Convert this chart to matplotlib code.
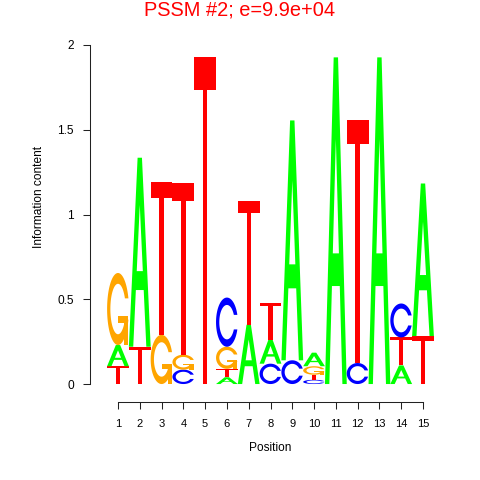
import numpy as np
import matplotlib
matplotlib.use("Agg")
import matplotlib.pyplot as plt
from matplotlib.patches import Polygon

plt.rcParams["font.family"] = ["Liberation Sans", "DejaVu Sans"]

# ==================== DATA ====================
positions = list(range(1, 16))
bits_A = [0.125, 1.115, 0, 0, 0, 0.04, 0.35, 0.14, 1.415, 0.08, 1.927, 0, 1.927, 0.11, 0.90]
bits_C = [0, 0, 0, 0.085, 0, 0.29, 0, 0.12, 0.14, 0.025, 0, 0.124, 0, 0.20, 0]
bits_G = [0.425, 0, 0.29, 0.088, 0, 0.13, 0, 0, 0, 0.05, 0, 0, 0, 0, 0]
bits_T = [0.105, 0.22, 0.90, 1.01, 1.927, 0.05, 0.73, 0.22, 0, 0.03, 0, 1.434, 0, 0.165, 0.283]

letter_colors = {"A": "#00FF00", "C": "#0000FF", "G": "#FFA500", "T": "#FF0000"}
y_ticks = [0, 0.5, 1, 1.5, 2]
y_tick_labels = ["0", "0.5", "1", "1.5", "2"]
title = "PSSM #2; e=9.9e+04"


# ==================== LETTER SHAPES (unit box) ====================
def ring_shape():
    a1 = np.linspace(0.3 + np.pi / 2, np.pi, 100)
    a2 = np.linspace(np.pi, 1.5 * np.pi, 100)
    xl1, yl1 = 0.5 + 0.5 * np.sin(a1), 0.5 + 0.5 * np.cos(a1)
    xl2, yl2 = 0.5 + 0.5 * np.sin(a2), 0.5 + 0.5 * np.cos(a2)
    xl = np.concatenate([xl1, xl2])
    yl = np.concatenate([yl1, yl2])
    x = np.concatenate([xl, xl[::-1]])
    y = np.concatenate([yl, 1 - yl[::-1]])

    xi1, yi1 = 0.5 + 0.35 * np.sin(a1), 0.5 + 0.35 * np.cos(a1)
    keep = yi1 <= yl1.max()
    xi1, yi1 = xi1[keep], yi1[keep].copy()
    yi1[0] = yl1.max()
    xi2, yi2 = 0.5 + 0.35 * np.sin(a2), 0.5 + 0.35 * np.cos(a2)
    xi = np.concatenate([xi1, xi2])
    yi = np.concatenate([yi1, yi2])
    x1 = np.concatenate([xi, xi[::-1]])
    y1 = np.concatenate([yi, 1 - yi[::-1]])

    x = np.concatenate([x, x1[::-1]])
    y = np.concatenate([y, y1[::-1]])
    return x, y, xl1.max()


def letter_parts(letter):
    col = letter_colors[letter]
    if letter == "A":
        ox = np.array([0, 4, 6, 10, 8, 6.8, 3.2, 2, 0]) * 0.1
        oy = np.array([0, 10, 10, 0, 0, 3, 3, 0, 0]) * 0.1
        ix = np.array([3.6, 5, 6.4, 3.6]) * 0.1
        iy = np.array([4, 7.5, 4, 4]) * 0.1
        return [(ox, oy, col), (ix, iy, "white")]
    if letter == "T":
        x = np.array([0, 10, 10, 6, 6, 4, 4, 0]) * 0.1
        y = np.array([10, 10, 9, 9, 0, 0, 9, 9]) * 0.1
        return [(x, y, col)]
    x, y, r1 = ring_shape()
    if letter == "C":
        return [(x, y, col)]
    h1 = 0.4
    xa = np.array([r1, 0.5, 0.5, r1 - 0.2, r1 - 0.2, r1, r1])
    ya = np.array([h1, h1, h1 - 0.1, h1 - 0.1, 0, 0, h1])
    return [(x, y, col), (xa, ya, col)]


# ==================== PLOT ====================
fig = plt.figure(figsize=(4.8, 4.8), dpi=100)
ax = fig.add_axes([90 / 480, 78 / 480, 361 / 480, 357 / 480])
ax.set_xlim(-0.285, 16.285)
ax.set_ylim(-0.106, 2.0)

for i, pos in enumerate(positions):
    stack = [("A", bits_A[i]), ("C", bits_C[i]), ("G", bits_G[i]), ("T", bits_T[i])]
    stack = sorted([s for s in stack if s[1] > 0], key=lambda s: s[1])
    y0 = 0.0
    for letter, h in stack:
        for px, py, col in letter_parts(letter):
            xy = np.column_stack([pos - 0.5 + px, y0 + py * h])
            ax.add_patch(Polygon(xy, closed=True, facecolor=col, edgecolor="none",
                                 linewidth=0, clip_on=False))
        y0 += h

for side in ["top", "right"]:
    ax.spines[side].set_visible(False)
ax.spines["left"].set_bounds(0, 2)
ax.spines["bottom"].set_bounds(1, 15)
for side in ["left", "bottom"]:
    ax.spines[side].set_linewidth(0.75)
    ax.spines[side].set_color("#222222")

ax.set_xticks(positions)
ax.set_xticklabels([str(p) for p in positions])
ax.set_yticks(y_ticks)
ax.set_yticklabels(y_tick_labels)
ax.tick_params(axis="x", length=5.2, width=0.75, pad=7, labelsize=8, color="#222222")
ax.tick_params(axis="y", length=5.2, width=0.75, pad=6.5, labelsize=8.6, color="#222222")

fig.text(270.5 / 480, 1 - 451 / 480, "Position", ha="center", va="baseline", fontsize=8.6)
fig.text(39 / 480, 1 - 197 / 480, "Information content", ha="center", va="center",
         rotation=90, fontsize=8.6)
fig.text(239.5 / 480, 1 - 15 / 480, title, ha="center", va="baseline",
         fontsize=14.4, color="#FF0000")

fig.savefig("out.png", dpi=100)
